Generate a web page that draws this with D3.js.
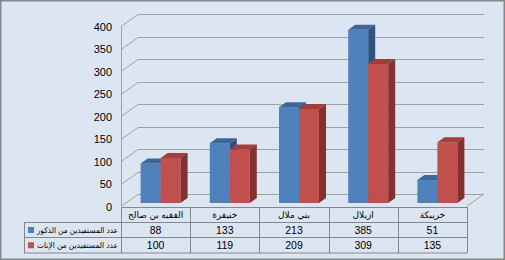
<!DOCTYPE html>
<html>
<head>
<meta charset="utf-8">
<script src="https://cdn.jsdelivr.net/npm/d3@7"></script>
<style>
  body { margin: 0; background: #fff; }
  text { font-family: "Liberation Sans", "DejaVu Sans", sans-serif; fill: #000; }
</style>
</head>
<body>
<script>
// data
var categories = ["الفقيه بن صالح", "خنيفرة", "بني ملال", "ازيلال", "خريبكة"];
var seriesNames = ["عدد المستفيدين من الذكور", "عدد المستفيدين  من الإناث"];
var males = [88, 133, 213, 385, 51];
var females = [100, 119, 209, 309, 135];
var yTicks = [0, 50, 100, 150, 200, 250, 300, 350, 400];

var W = 505, H = 260;
var depthX = 17, depthY = 12;   // wall depth
var barDX = 7, barDY = 5;       // bar depth
var floorFront = 206;

var svg = d3.select('body').append('svg').attr('width', W).attr('height', H);

svg.append('rect').attr('x', 0.75).attr('y', 0.75).attr('width', W - 1.5).attr('height', H - 1.5)
  .attr('fill', '#dce6f2').attr('stroke', '#868686').attr('stroke-width', 1.5);

var x = d3.scaleBand().domain(categories).range([121, 467]);
var yBack = d3.scaleLinear().domain([0, 400]).range([floorFront - depthY, 14]);

// grid (back wall + left wall diagonals)
var grid = svg.append('g').attr('stroke', '#a0a0a0').attr('stroke-width', 1);
yTicks.forEach(function (t) {
  var yb = Math.round(yBack(t)) + 0.5;
  grid.append('line').attr('x1', 121 + depthX).attr('x2', 467 + depthX).attr('y1', yb).attr('y2', yb);
  grid.append('line').attr('x1', 121).attr('y1', yb + depthY).attr('x2', 121 + depthX).attr('y2', yb);
});
grid.append('line').attr('x1', 121.5).attr('x2', 121.5).attr('y1', yBack(400) + depthY).attr('y2', floorFront);
grid.append('line').attr('x1', 467).attr('y1', floorFront).attr('x2', 467 + depthX).attr('y2', floorFront - depthY);

svg.append('g').selectAll('text').data(yTicks).enter().append('text')
  .attr('x', 112).attr('y', function (d) { return yBack(d) + depthY + 2; })
  .attr('text-anchor', 'end').attr('dominant-baseline', 'middle')
  .attr('font-size', 11).text(function (d) { return d; });

// bars
var inner = d3.scaleBand().domain([0, 1]).range([0, 40]);
var colors = [
  { front: '#4f81bd', top: '#3c6798', side: '#2f5180' },
  { front: '#c0504d', top: '#a23f3c', side: '#84302e' }
];
var barFloor = floorFront - 3;
var yBar = function (v) { return yBack(v) + (barFloor - yBack(0)); };

var bars = [];
categories.forEach(function (c, i) {
  [males[i], females[i]].forEach(function (v, s) {
    bars.push({ cat: c, s: s, v: v });
  });
});

var gBars = svg.append('g');
bars.forEach(function (d) {
  var x0 = x(d.cat) + x.bandwidth() / 2 - 20 + 5 + inner(d.s);
  var w = inner.bandwidth();
  var yt = yBar(d.v), yb = barFloor;
  var col = colors[d.s];
  gBars.append('rect').attr('x', x0).attr('y', yt).attr('width', w).attr('height', yb - yt).attr('fill', col.front);
  gBars.append('polygon').attr('fill', col.top).attr('points',
    [[x0, yt], [x0 + barDX, yt - barDY], [x0 + w + barDX, yt - barDY], [x0 + w, yt]].join(' '));
  gBars.append('polygon').attr('fill', col.side).attr('points',
    [[x0 + w, yt], [x0 + w + barDX, yt - barDY], [x0 + w + barDX, yb - barDY], [x0 + w, yb]].join(' '));
});

// data table
var rowY = [207, 222.5, 237.5, 253];
var tbl = svg.append('g').attr('stroke', '#868686').attr('stroke-width', 1);
tbl.append('line').attr('x1', 121).attr('x2', 467).attr('y1', rowY[0] + 0.5).attr('y2', rowY[0] + 0.5);
[1, 2, 3].forEach(function (r) {
  tbl.append('line').attr('x1', 24).attr('x2', 467).attr('y1', rowY[r]).attr('y2', rowY[r]);
});
tbl.append('line').attr('x1', 24.5).attr('x2', 24.5).attr('y1', rowY[1]).attr('y2', rowY[3]);
var edges = categories.map(function (c) { return x(c); }).concat([467]);
edges.forEach(function (e) {
  tbl.append('line').attr('x1', Math.round(e) + 0.5).attr('x2', Math.round(e) + 0.5).attr('y1', rowY[0]).attr('y2', rowY[3]);
});

svg.append('g').selectAll('text').data(categories).enter().append('text')
  .attr('x', function (d) { return x(d) + x.bandwidth() / 2; }).attr('y', (rowY[0] + rowY[1]) / 2 + 1)
  .attr('text-anchor', 'middle').attr('dominant-baseline', 'middle').attr('font-size', 9)
  .text(function (d) { return d; });

[males, females].forEach(function (vals, r) {
  var yc = (rowY[r + 1] + rowY[r + 2]) / 2 + 1;
  svg.append('g').selectAll('text').data(vals).enter().append('text')
    .attr('x', function (d, i) { return x(categories[i]) + x.bandwidth() / 2; }).attr('y', yc)
    .attr('text-anchor', 'middle').attr('dominant-baseline', 'middle').attr('font-size', 10.5)
    .text(function (d) { return d; });
  svg.append('rect').attr('x', 28).attr('y', yc - 4).attr('width', 6).attr('height', 6).attr('fill', colors[r].front);
  svg.append('text').attr('x', 118).attr('y', yc).attr('dominant-baseline', 'middle')
    .attr('font-size', 8).attr('direction', 'rtl').attr('text-anchor', 'start')
    .attr('textLength', 81).attr('lengthAdjust', 'spacingAndGlyphs')
    .text(seriesNames[r]);
});
</script>
</body>
</html>
